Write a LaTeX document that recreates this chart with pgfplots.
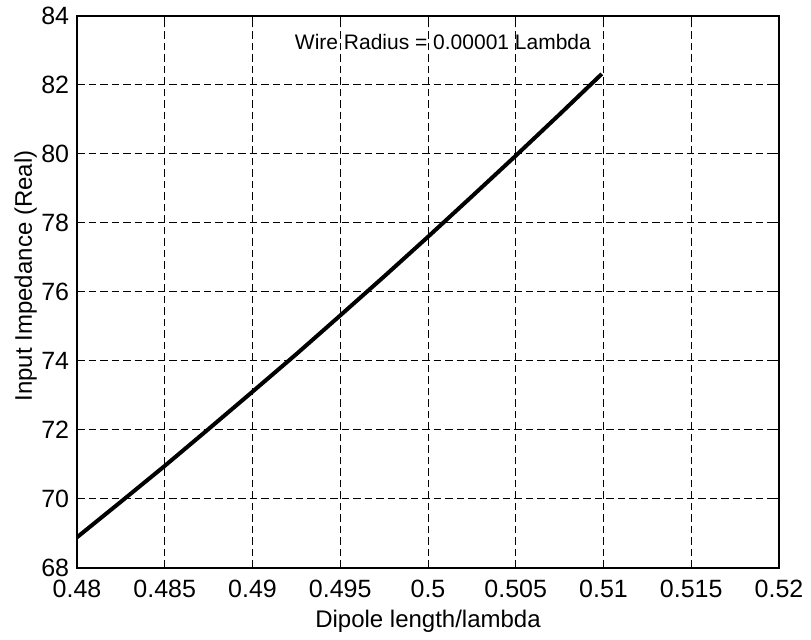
\documentclass[border=0pt]{standalone}
\usepackage{fontspec}
\setmainfont{Liberation Sans}
\usepackage{pgfplots}
\pgfplotsset{compat=1.18}
\begin{document}
\begin{tikzpicture}
\begin{axis}[
  name=ax,
  scale only axis,
  width=351pt, height=276pt,
  xmin=0.48, xmax=0.52, ymin=68, ymax=84,
  xtick={0.48,0.485,0.49,0.495,0.5,0.505,0.51,0.515,0.52},
  xticklabels={0.48,0.485,0.49,0.495,0.5,0.505,0.51,0.515,0.52},
  ytick={68,70,72,74,76,78,80,82,84},
  /pgf/number format/assume math mode=true,
  ticklabel style={font=\fontsize{12.5}{14}\selectfont},
  xticklabel style={anchor=base, inner sep=0pt, yshift=-15pt},
  yticklabel style={anchor=east, inner sep=0pt, xshift=-3.75pt},
  grid=major,
  major grid style={black, line width=0.5pt, dash pattern=on 3.75pt off 2pt},
  axis line style={black, line width=0.7pt},
  tick align=inside, major tick length=3pt,
  tick style={black, line width=0.5pt},
  xlabel={Dipole length/lambda},
  ylabel={Input Impedance (Real)},
  label style={font=\fontsize{12}{14}\selectfont},
  xlabel style={at={(axis description cs:0.5,-0.1069)}, anchor=base},
  ylabel style={at={(axis description cs:-0.0641,0.529)}, anchor=base},
]
% real part of the input impedance of a thin dipole
\addplot[black, line width=2pt] coordinates {
  (0.4800,68.89) (0.4825,69.92) (0.4850,70.96) (0.4875,72.03)
  (0.4900,73.11) (0.4925,74.20) (0.4950,75.32) (0.4975,76.45)
  (0.5000,77.60) (0.5025,78.77) (0.5050,79.95) (0.5075,81.15)
  (0.5099,82.32)
};
\node[font=\fontsize{10.5}{12}\selectfont] at (axis cs:0.50085,83.25)
  {Wire Radius = 0.00001 Lambda};
\end{axis}
\pgfresetboundingbox
\path ([shift={(-38.5pt,-36pt)}]ax.south west) rectangle ([shift={(16pt,8pt)}]ax.north east);
\end{tikzpicture}
\end{document}
